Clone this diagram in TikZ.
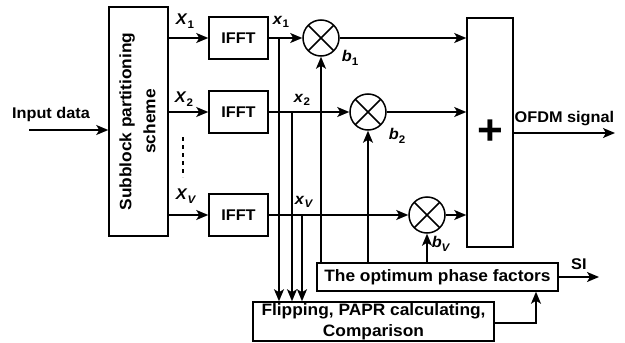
\documentclass[tikz,border=0pt]{standalone}
\usepackage{fontspec}
\setmainfont{Liberation Sans}[FakeStretch=1.05]
\usetikzlibrary{arrows.meta}
\newcommand{\sig}[2]% letter, index
{\textit{#1}\raisebox{-.45ex}{\fontsize{11}{11}\selectfont #2}}

\begin{document}
\begin{tikzpicture}[x=1pt,y=-1pt,line width=1.5pt,
	>={Stealth[length=12pt,width=10pt,inset=3pt]},
	every node/.style={font=\fontsize{15.5}{17}\selectfont\bfseries},
	blk/.style={draw,rectangle,inner sep=0pt},
	big/.style={font=\fontsize{16.5}{21}\selectfont\bfseries},
	mult/.style={draw,circle,minimum size=36pt,inner sep=0pt,
		path picture={\draw (path picture bounding box.north west) -- (path picture bounding box.south east)
			(path picture bounding box.north east) -- (path picture bounding box.south west);}}]
	\useasboundingbox (0,0) rectangle (625,343);
	% blocks
	\node[blk,minimum width=59pt,minimum height=229pt] (part) at (138.5,121.5)
		{\rotatebox{90}{\fontsize{16.5}{24}\selectfont\begin{tabular}{@{}c@{}}Subblock partitioning\\scheme\end{tabular}}};
	\node[blk,minimum width=59pt,minimum height=42pt] (ifft1) at (238.5,38){IFFT};
	\node[blk,minimum width=59pt,minimum height=42pt] (ifft2) at (238.5,112){IFFT};
	\node[blk,minimum width=59pt,minimum height=42pt] (ifft3) at (238.5,215){IFFT};
	\node[mult] (m1) at (321,38){};
	\node[mult] (m2) at (368,112){};
	\node[mult] (m3) at (427,215){};
	\node[blk,minimum width=46pt,minimum height=229pt] (add) at (490,132.5){\raisebox{-4pt}{\fontsize{42}{42}\selectfont +}};
	\node[blk,big,minimum width=241pt,minimum height=28pt] (opt) at (437.5,277){The optimum phase factors};
	\node[blk,big,minimum width=241pt,minimum height=39pt,align=center] (flip) at (373.5,321.5){Flipping, PAPR calculating,\\Comparison};
	% free ends and taps
	\coordinate (in) at (29,130);
	\coordinate (out) at (615,133);
	\coordinate (si) at (599,277);
	\coordinate (t1) at (279,38);
	\coordinate (t2) at (292,112);
	\coordinate (t3) at (302,215);
	\coordinate (fb) at (536,323);
	% connectors
	\draw[->] (in) -- (in -| part.west);
	\foreach \i in {1,2,3}{
		\draw[->] (part.east |- ifft\i) -- (ifft\i);
		\draw[->] (ifft\i) -- (m\i);
		\draw[->] (m\i) -- (m\i -| add.west);
		\draw[->] (t\i) -- (t\i |- flip.north);
		\draw[->] (opt.north -| m\i) -- (m\i);
	}
	\draw[->] (add.east |- out) -- node[above,yshift=3pt]{OFDM signal} (out);
	\draw[->] (opt) -- node[above,yshift=3pt]{SI} (si);
	\draw[->] (flip.east |- fb) -- (fb) -- (fb |- opt.south);
	\draw[dash pattern=on 4pt off 4pt] (183,137) -- (183,177);
	% labels
	\node[anchor=base] (lin) at (51,118){Input data};
	\node (lX1) at (185,21){\sig{X}{1}};
	\node (lX2) at (184,99){\sig{X}{2}};
	\node (lXV) at (186,196){\sig{X}{\textit{V}}};
	\node (lx1) at (281,22){\sig{x}{1}};
	\node (lx2) at (302,100){\sig{x}{2}};
	\node (lxV) at (304,202){\sig{x}{\textit{V}}};
	\node (lb1) at (350,58){\sig{b}{1}};
	\node (lb2) at (397,136){\sig{b}{2}};
	\node (lbV) at (441,244){\sig{b}{\textit{V}}};
\end{tikzpicture}
\end{document}
